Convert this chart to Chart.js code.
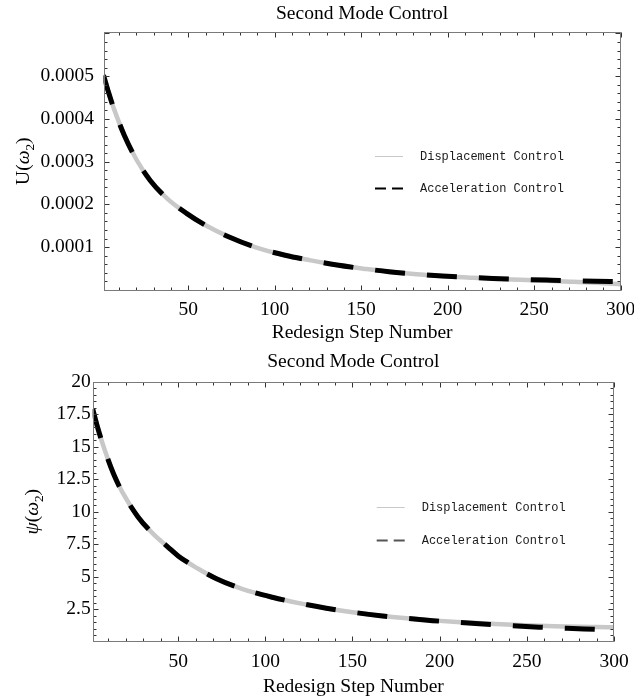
<!DOCTYPE html>
<html>
<head>
<meta charset="utf-8">
<script src="https://cdn.jsdelivr.net/npm/chart.js@4.4.1/dist/chart.umd.min.js"></script>
<style>
  html, body { margin: 0; padding: 0; background: #fff; }
  #wrap { position: relative; width: 634px; height: 699px; }
  canvas { position: absolute; left: 0; }
</style>
</head>
<body>
<div id="wrap">
  <canvas id="uChart" width="634" height="345" style="top:0"></canvas>
  <canvas id="psiChart" width="634" height="354" style="top:345px"></canvas>
</div>
<script>
// ---- data ----
const seriesLabels = ['Displacement Control', 'Acceleration Control'];
const chartTitle = 'Second Mode Control';
const xTitle = 'Redesign Step Number';

const xTickValues = [50, 100, 150, 200, 250, 300];

const uSteps = [1, 4, 7, 13, 20, 28, 38, 49, 60, 74, 89, 106, 120, 136, 153, 166, 182, 197, 213, 226, 242, 257, 271, 286, 300];
const uAcceleration = [0.000502, 0.000461, 0.000424, 0.000362, 0.000305, 0.000256, 0.000213, 0.000179, 0.000151, 0.000123, 0.0000995, 0.000081, 0.0000695, 0.0000580, 0.0000487, 0.0000425, 0.0000368, 0.0000324, 0.0000292, 0.0000268, 0.0000246, 0.0000228, 0.0000212, 0.0000199, 0.000019];
const uDisplacement = [0.000502, 0.000461, 0.000424, 0.000362, 0.000305, 0.000256, 0.000213, 0.000179, 0.000151, 0.000123, 0.0000995, 0.000081, 0.0000695, 0.0000580, 0.0000487, 0.0000425, 0.0000366, 0.0000320, 0.0000285, 0.0000259, 0.0000235, 0.0000213, 0.0000192, 0.0000165, 0.000013];
const uTickValues = [0.0001, 0.0002, 0.0003, 0.0004, 0.0005];
const uTickLabels = ['0.0001', '0.0002', '0.0003', '0.0004', '0.0005'];

const psiSteps = [1, 4, 8, 13, 18, 27, 36, 44, 50, 61, 72, 87, 104, 120, 135, 150, 166, 181, 196, 212, 227, 242, 257, 273, 290, 300];
const psiAcceleration = [17.9, 16.4, 14.7, 12.9, 11.5, 9.6, 8.25, 7.3, 6.6, 5.65, 4.85, 4.05, 3.42, 2.95, 2.58, 2.27, 2.0, 1.8, 1.62, 1.47, 1.34, 1.22, 1.12, 1.03, 0.95, 0.9];
const psiDisplacement = [17.9, 16.4, 14.7, 12.9, 11.5, 9.6, 8.25, 7.3, 6.6, 5.65, 4.85, 4.05, 3.42, 2.95, 2.58, 2.27, 2.0, 1.8, 1.64, 1.50, 1.40, 1.30, 1.22, 1.17, 1.13, 1.11];
const psiTickValues = [2.5, 5, 7.5, 10, 12.5, 15, 17.5, 20];
const psiTickLabels = ['2.5', '5', '7.5', '10', '12.5', '15', '17.5', '20'];

// ---- drawing helpers ----
const SERIF = '"Liberation Serif", "Times New Roman", serif';
const MONO = '"Liberation Mono", "Courier New", monospace';
const FONT_SIZE = 19.5;

function pairs(xs, ys) { return xs.map((x, i) => ({ x, y: ys[i] })); }

// draws a label made of runs: {t, italic, sub}
function drawRuns(ctx, runs, cx, cy, rotate) {
  const fontFor = r => (r.italic ? 'italic ' : '') + (r.sub ? FONT_SIZE * 0.68 : FONT_SIZE) + 'px ' + SERIF;
  ctx.save();
  ctx.translate(cx, cy);
  if (rotate) ctx.rotate(-Math.PI / 2);
  ctx.textAlign = 'left';
  ctx.textBaseline = 'alphabetic';
  ctx.fillStyle = '#000';
  let total = 0;
  const widths = runs.map(r => { ctx.font = fontFor(r); const w = ctx.measureText(r.t).width; total += w; return w; });
  let x = -total / 2;
  const base = FONT_SIZE * 0.33;
  runs.forEach((r, i) => {
    ctx.font = fontFor(r);
    ctx.fillText(r.t, x, base + (r.sub ? FONT_SIZE * 0.22 : 0));
    x += widths[i];
  });
  ctx.restore();
}

function ticksAlong(step, max) {
  const out = [];
  for (let i = 1; i * step <= max + step * 1e-6; i++) out.push(i * step);
  return out;
}
function isMultiple(v, m) { const q = v / m; return Math.abs(q - Math.round(q)) < 1e-6; }

// frame, inward ticks on all four sides, titles and the inset legend
const framePlugin = {
  id: 'frame',
  afterDraw(chart, args, o) {
    const { ctx, chartArea: a } = chart;
    const xs = chart.scales.x, ys = chart.scales.y;
    const L = Math.round(a.left) + 0.5, R = Math.round(a.right) - 0.5;
    const T = Math.round(a.top) + 0.5, B = Math.round(a.bottom) - 0.5;
    ctx.save();

    // ticks
    ctx.strokeStyle = '#333';
    ctx.lineWidth = 1;
    ctx.beginPath();
    ticksAlong(o.xMinor, xs.max).forEach(v => {
      const p = Math.round(xs.getPixelForValue(v)) + 0.5;
      const len = isMultiple(v, o.xMajor) ? o.majorLen : o.minorLen;
      ctx.moveTo(p, B); ctx.lineTo(p, B - len);
      ctx.moveTo(p, T); ctx.lineTo(p, T + len);
    });
    ticksAlong(o.yMinor, ys.max).forEach(v => {
      const p = Math.round(ys.getPixelForValue(v)) + 0.5;
      if (p < T - 0.1 || p > B + 0.1) return;
      const len = isMultiple(v, o.yMajor) ? o.majorLen : o.minorLen;
      ctx.moveTo(L, p); ctx.lineTo(L + len, p);
      ctx.moveTo(R, p); ctx.lineTo(R - len, p);
    });
    ctx.stroke();

    // frame
    ctx.strokeStyle = '#7a7a7a';
    ctx.strokeRect(L, T, R - L, B - T);

    // titles
    ctx.fillStyle = '#000';
    ctx.font = FONT_SIZE + 'px ' + SERIF;
    ctx.textAlign = 'center';
    ctx.textBaseline = 'middle';
    const cx = (a.left + a.right) / 2;
    ctx.fillText(chartTitle, cx, a.top + o.titleDy);
    ctx.fillText(xTitle, cx, a.bottom + o.xTitleDy);
    drawRuns(ctx, o.yRuns, o.yTitleX, (a.top + a.bottom) / 2, true);

    // legend
    ctx.font = '12px ' + MONO;
    ctx.textAlign = 'left';
    ctx.textBaseline = 'middle';
    chart.data.datasets.forEach((ds, i) => {
      const y = Math.round(a.top + o.legendRows[i]) + 0.5;
      const x0 = a.right + o.legendSampleDx;
      ctx.beginPath();
      if (ds.borderDash && ds.borderDash.length) {
        ctx.strokeStyle = o.legendDashColor;
        ctx.lineWidth = 2;
        ctx.moveTo(x0, y); ctx.lineTo(x0 + 11, y);
        ctx.moveTo(x0 + 17, y); ctx.lineTo(x0 + 28, y);
      } else {
        ctx.strokeStyle = ds.borderColor;
        ctx.lineWidth = 1;
        ctx.moveTo(x0, y); ctx.lineTo(x0 + 28, y);
      }
      ctx.stroke();
      ctx.fillStyle = '#1a1a1a';
      ctx.fillText(ds.label, a.right + o.legendTextDx, y);
    });
    ctx.restore();
  }
};

function makeChart(id, cfg) {
  return new Chart(document.getElementById(id), {
    type: 'line',
    data: {
      datasets: [
        {
          label: seriesLabels[0],
          data: pairs(cfg.steps, cfg.displacement),
          borderColor: '#c8c8c8',
          borderWidth: 4.5,
          pointRadius: 0,
          cubicInterpolationMode: 'monotone',
          order: 2
        },
        {
          label: seriesLabels[1],
          data: pairs(cfg.steps, cfg.acceleration),
          borderColor: '#000',
          borderWidth: 5,
          borderDash: [30, 22],
          borderCapStyle: 'butt',
          pointRadius: 0,
          cubicInterpolationMode: 'monotone',
          order: 1
        }
      ]
    },
    options: {
      responsive: false,
      animation: false,
      events: [],
      layout: { padding: cfg.padding },
      plugins: {
        legend: { display: false },
        tooltip: { enabled: false },
        title: { display: false },
        frame: cfg.frame
      },
      scales: {
        x: {
          type: 'linear',
          min: 1,
          max: 300,
          grid: { display: false, drawTicks: false },
          border: { display: false },
          ticks: {
            font: { family: SERIF, size: FONT_SIZE },
            color: '#000',
            padding: cfg.xTickPad,
            maxRotation: 0,
            autoSkip: false
          },
          afterBuildTicks: s => { s.ticks = xTickValues.map(v => ({ value: v })); },
          afterFit: s => { s.height = cfg.xAxisHeight; s.paddingLeft = 0; s.paddingRight = 0; }
        },
        y: {
          type: 'linear',
          min: cfg.yMin,
          max: cfg.yMax,
          grid: { display: false, drawTicks: false },
          border: { display: false },
          ticks: {
            font: { family: SERIF, size: FONT_SIZE },
            color: '#000',
            padding: cfg.yTickPad,
            callback: v => cfg.tickLabels[cfg.tickValues.indexOf(v)]
          },
          afterBuildTicks: s => { s.ticks = cfg.tickValues.map(v => ({ value: v })); },
          afterFit: s => { s.width = cfg.yAxisWidth; s.paddingTop = 0; s.paddingBottom = 0; }
        }
      }
    },
    plugins: [framePlugin]
  });
}

makeChart('uChart', {
  steps: uSteps,
  displacement: uDisplacement,
  acceleration: uAcceleration,
  tickValues: uTickValues,
  tickLabels: uTickLabels,
  yMin: -0.000002,
  yMax: 0.000604,
  padding: { left: 0, top: 31.7, right: 13.3, bottom: 0 },
  yAxisWidth: 103.5,
  xAxisHeight: 54.3,
  xTickPad: 7,
  yTickPad: 9.5,
  frame: {
    xMinor: 10, xMajor: 50, yMinor: 0.00002, yMajor: 0.0001,
    majorLen: 5, minorLen: 3,
    titleDy: -18, xTitleDy: 42.6, yTitleX: 23,
    yRuns: [{ t: 'U(' }, { t: 'ω', italic: true }, { t: '2', sub: true }, { t: ')' }],
    legendRows: [124, 156.6],
    legendSampleDx: -245.7, legendTextDx: -200.7,
    legendDashColor: '#000'
  }
});

makeChart('psiChart', {
  steps: psiSteps,
  displacement: psiDisplacement,
  acceleration: psiAcceleration,
  tickValues: psiTickValues,
  tickLabels: psiTickLabels,
  yMin: 0,
  yMax: 20,
  padding: { left: 0, top: 36.7, right: 20, bottom: 0 },
  yAxisWidth: 92.7,
  xAxisHeight: 57.3,
  xTickPad: 8,
  yTickPad: 2,
  frame: {
    xMinor: 10, xMajor: 50, yMinor: 0.5, yMajor: 2.5,
    majorLen: 5, minorLen: 3,
    titleDy: -19.7, xTitleDy: 45, yTitleX: 32,
    yRuns: [{ t: 'ψ', italic: true }, { t: '(' }, { t: 'ω', italic: true }, { t: '2', sub: true }, { t: ')' }],
    legendRows: [125, 158.3],
    legendSampleDx: -237.3, legendTextDx: -192.3,
    legendDashColor: '#555'
  }
});
</script>
</body>
</html>
